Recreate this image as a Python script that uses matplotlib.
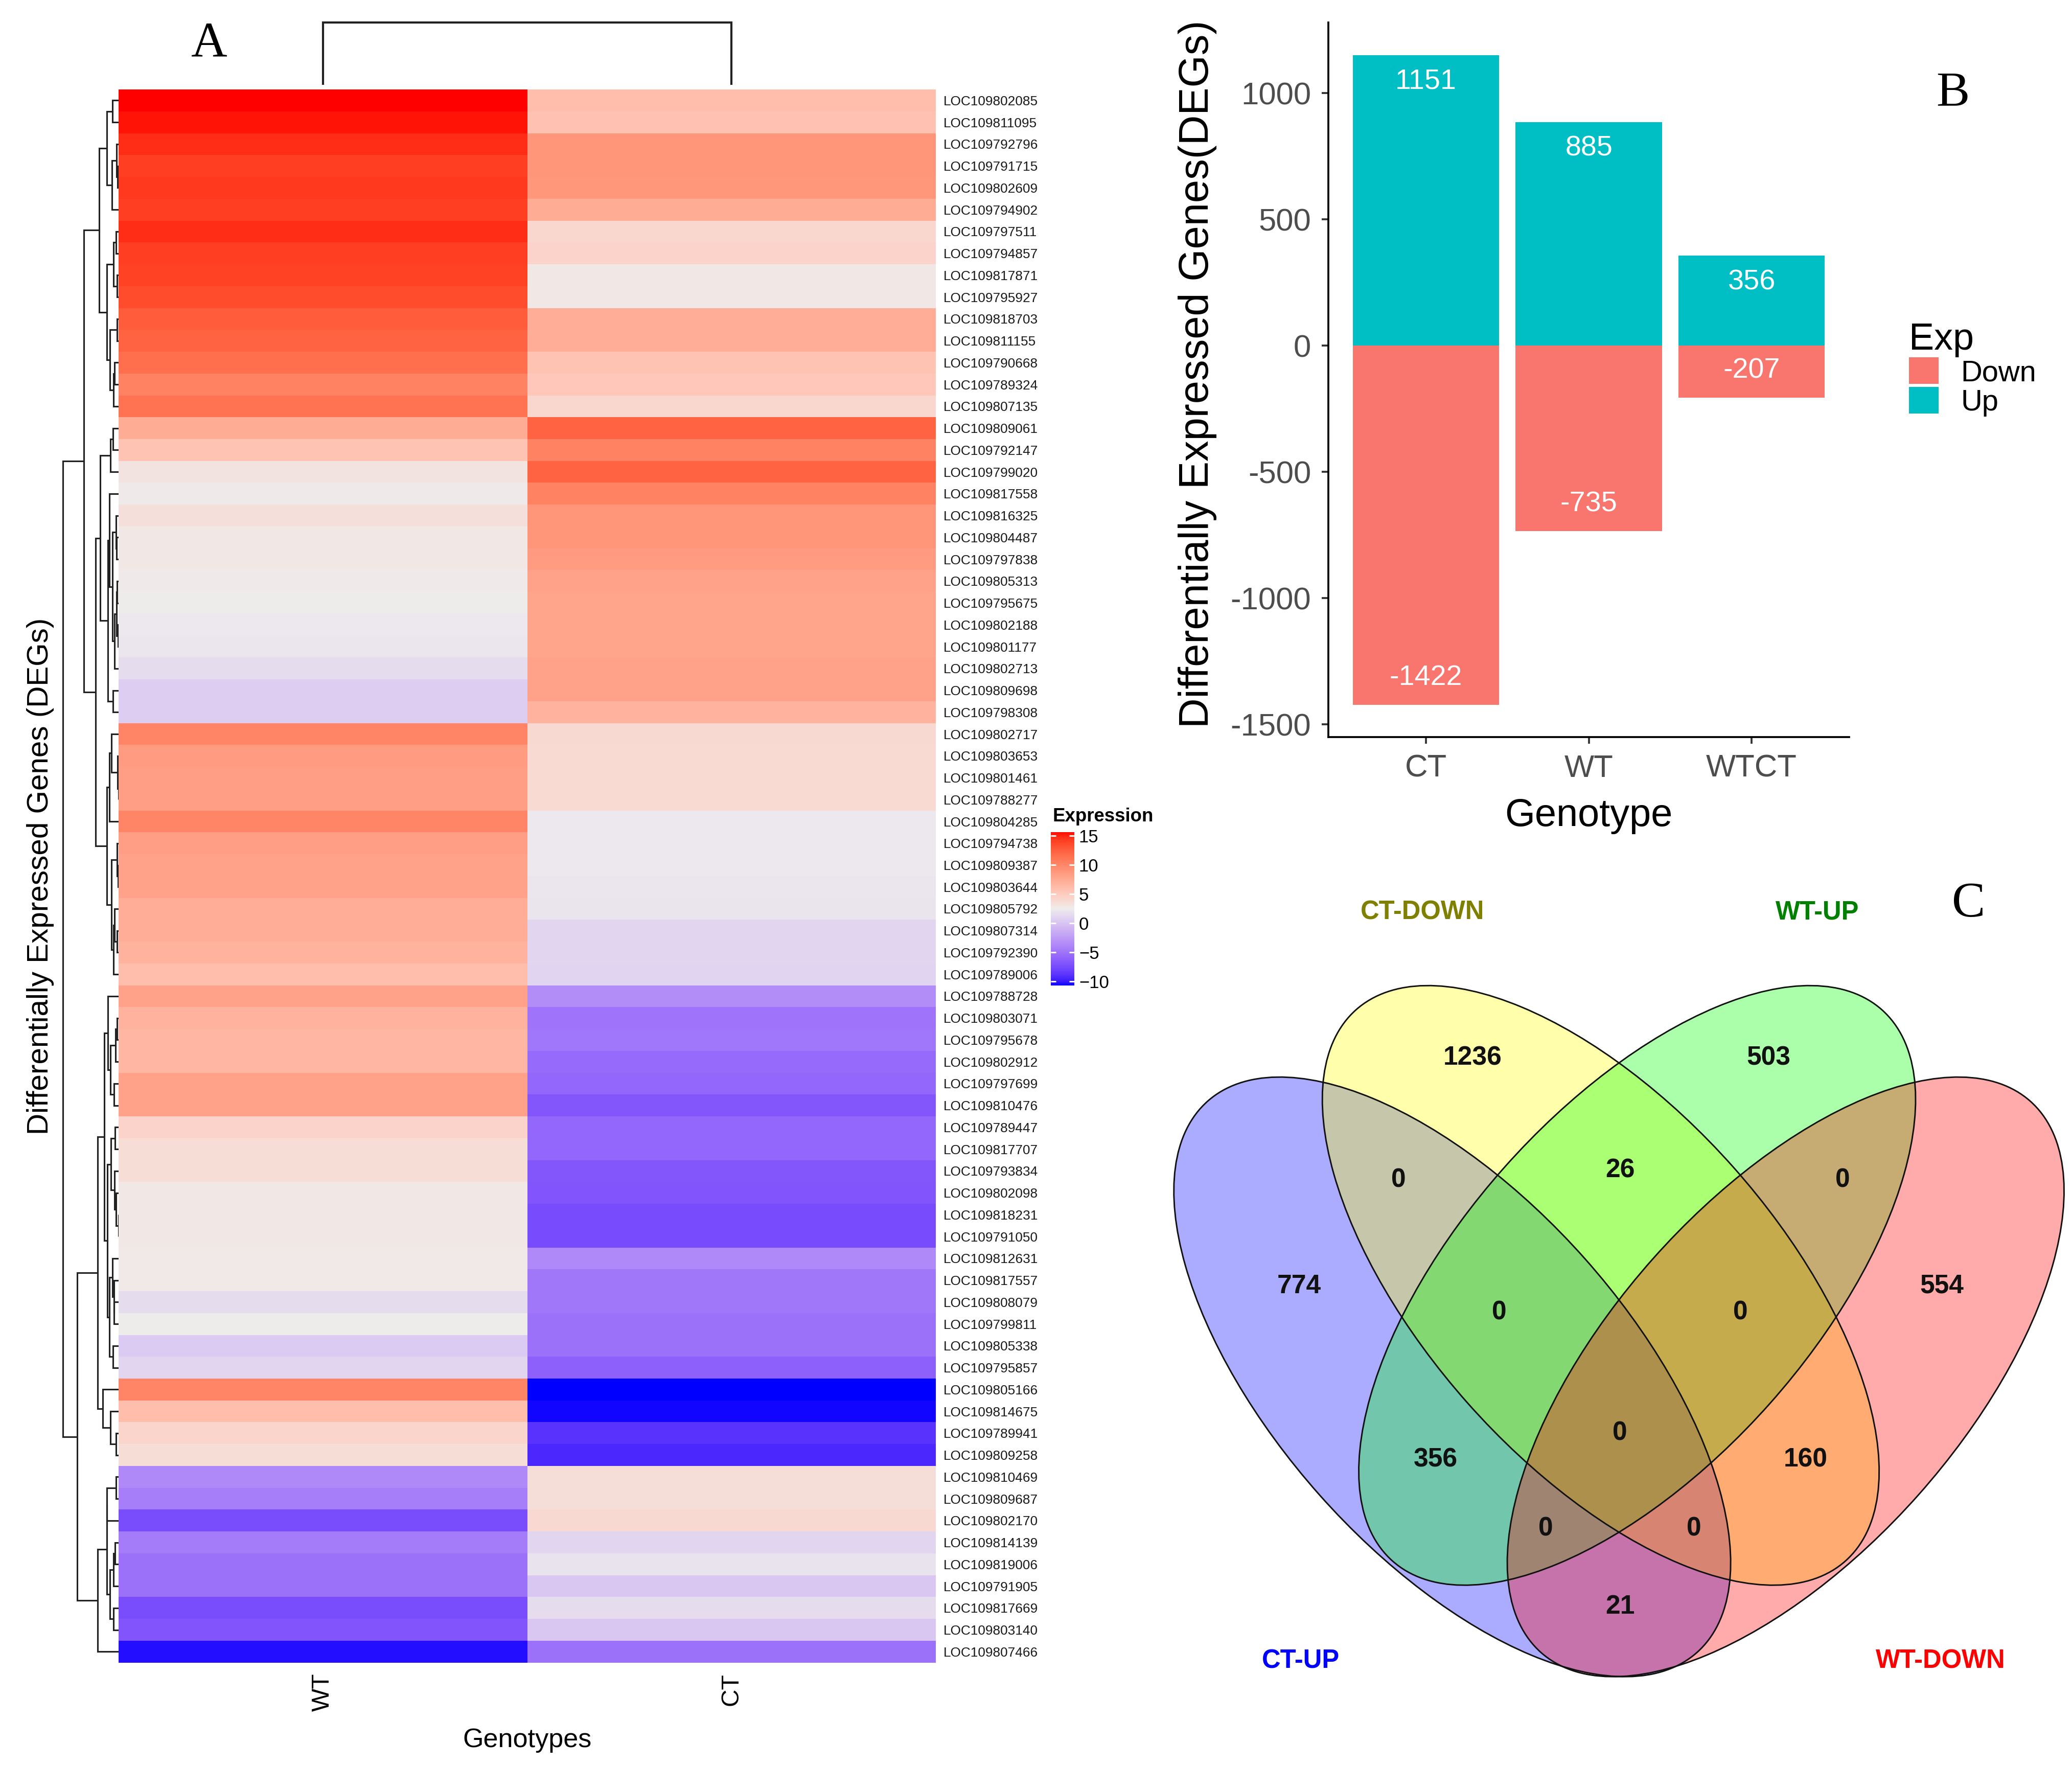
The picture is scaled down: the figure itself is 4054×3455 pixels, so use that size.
import numpy as np
import matplotlib
matplotlib.use("Agg")
import matplotlib.pyplot as plt
from matplotlib.colors import ListedColormap, Normalize
from matplotlib.patches import Ellipse, Patch

plt.rcParams['font.family'] = ['Liberation Sans', 'DejaVu Sans']
plt.rcParams['axes.unicode_minus'] = False

# ---------------- data: panel A heatmap ----------------
genes = [
    "LOC109802085", "LOC109811095", "LOC109792796", "LOC109791715", "LOC109802609",
    "LOC109794902", "LOC109797511", "LOC109794857", "LOC109817871", "LOC109795927",
    "LOC109818703", "LOC109811155", "LOC109790668", "LOC109789324", "LOC109807135",
    "LOC109809061", "LOC109792147", "LOC109799020", "LOC109817558", "LOC109816325",
    "LOC109804487", "LOC109797838", "LOC109805313", "LOC109795675", "LOC109802188",
    "LOC109801177", "LOC109802713", "LOC109809698", "LOC109798308", "LOC109802717",
    "LOC109803653", "LOC109801461", "LOC109788277", "LOC109804285", "LOC109794738",
    "LOC109809387", "LOC109803644", "LOC109805792", "LOC109807314", "LOC109792390",
    "LOC109789006", "LOC109788728", "LOC109803071", "LOC109795678", "LOC109802912",
    "LOC109797699", "LOC109810476", "LOC109789447", "LOC109817707", "LOC109793834",
    "LOC109802098", "LOC109818231", "LOC109791050", "LOC109812631", "LOC109817557",
    "LOC109808079", "LOC109799811", "LOC109805338", "LOC109795857", "LOC109805166",
    "LOC109814675", "LOC109789941", "LOC109809258", "LOC109810469", "LOC109809687",
    "LOC109802170", "LOC109814139", "LOC109819006", "LOC109791905", "LOC109817669",
    "LOC109803140", "LOC109807466",
]
wt_expr = [
    15.6, 15.3, 14.7, 14.1, 14.3, 14.1, 14.7, 14.1, 14.0, 13.5,
    12.7, 12.3, 11.5, 10.3, 11.3, 7.3, 5.6, 3.1, 2.6, 3.4,
    2.85, 2.85, 2.6, 2.5, 2.2, 2.05, 1.5, 0.5, 0.5, 10.1,
    8.6, 8.4, 8.4, 10.1, 8.4, 8.1, 8.1, 7.2, 7.2, 6.8,
    6.0, 8.0, 6.8, 6.5, 6.5, 8.0, 8.0, 4.4, 3.6, 3.6,
    2.8, 2.8, 2.8, 2.7, 2.7, 1.5, 2.5, 0.3, 1.1, 10.1,
    6.0, 4.2, 3.6, -3.7, -4.4, -7.4, -4.6, -5.2, -5.2, -7.4,
    -6.9, -10.3,
]
ct_expr = [
    6.0, 5.7, 9.0, 9.0, 8.9, 7.3, 4.0, 4.4, 2.85, 2.85,
    7.2, 7.2, 5.6, 5.3, 4.0, 12.3, 10.3, 12.3, 10.3, 9.0,
    9.0, 8.6, 8.1, 7.8, 7.8, 7.8, 8.1, 8.1, 6.8, 3.9,
    3.8, 3.8, 3.8, 2.2, 2.2, 2.2, 2.05, 2.0, 1.1, 1.1,
    1.0, -3.5, -5.0, -4.9, -5.6, -5.8, -6.8, -5.8, -5.8, -6.8,
    -6.9, -7.5, -7.5, -3.7, -4.8, -4.8, -5.2, -5.2, -6.2, -10.7,
    -10.5, -8.9, -9.4, 3.5, 3.5, 3.9, 1.1, 1.9, 0.1, 1.5,
    0.1, -5.2,
]
heat_columns = ["WT", "CT"]
cbar_ticks = [-10, -5, 0, 5, 10, 15]

# row dendrogram: ("n", height, left, right) / ("g", first_row, last_row, top_height)
row_tree = ("n", 42.0,
            ("n", 26.0,
             ("n", 14.5, ("n", 9.0, ("g", 1, 2, 4.5), ("g", 3, 6, 5.0)), ("g", 7, 15, 9.0)),
             ("n", 17.2, ("n", 13.7, ("g", 16, 18, 6.0), ("g", 19, 29, 8.0)), ("g", 30, 41, 8.7))),
            ("n", 31.2,
             ("n", 15.8, ("n", 10.6, ("g", 42, 47, 8.0), ("g", 48, 59, 8.5)),
              ("n", 12.0, ("g", 60, 60, 0.0), ("g", 61, 63, 6.0))),
             ("n", 15.8, ("g", 64, 71, 9.0), ("g", 72, 72, 0.0))))
col_merge_height = 1.0

# ---------------- data: panel B ----------------
bar_genotypes = ["CT", "WT", "WTCT"]
up_counts = [1151, 885, 356]
down_counts = [-1422, -735, -207]

# ---------------- data: panel C ----------------
venn_names = ["CT-UP", "CT-DOWN", "WT-UP", "WT-DOWN"]
venn_counts = [1236, 503, 0, 26, 0, 774, 554, 0, 0, 356, 0, 160, 0, 0, 21]

# ---------------- layout helpers (reference pixel grid 1563 x 1332) ----------------
W, H = 1563.0, 1332.0


def rect(x0, y0, x1, y1):
    return [x0 / W, 1 - y1 / H, (x1 - x0) / W, (y1 - y0) / H]


def srgb_to_lab(c):
    c = np.asarray(c, float)
    lin = np.where(c <= 0.04045, c / 12.92, ((c + 0.055) / 1.055) ** 2.4)
    M = np.array([[0.4124564, 0.3575761, 0.1804375],
                  [0.2126729, 0.7151522, 0.0721750],
                  [0.0193339, 0.1191920, 0.9503041]])
    xyz = M @ lin / np.array([0.95047, 1.0, 1.08883])
    f = np.where(xyz > 0.008856, np.cbrt(xyz), 7.787 * xyz + 16 / 116)
    return np.array([116 * f[1] - 16, 500 * (f[0] - f[1]), 200 * (f[1] - f[2])])


def lab_to_srgb(lab):
    L, a, b = lab
    fy = (L + 16) / 116
    fx = fy + a / 500
    fz = fy - b / 200
    f = np.array([fx, fy, fz])
    xyz = np.where(f ** 3 > 0.008856, f ** 3, (f - 16 / 116) / 7.787)
    xyz = xyz * np.array([0.95047, 1.0, 1.08883])
    Minv = np.array([[3.2404542, -1.5371385, -0.4985314],
                     [-0.9692660, 1.8760108, 0.0415560],
                     [0.0556434, -0.2040259, 1.0572252]])
    lin = Minv @ xyz
    lin = np.clip(lin, 0, 1)
    c = np.where(lin <= 0.0031308, 12.92 * lin, 1.055 * lin ** (1 / 2.4) - 0.055)
    return np.clip(c, 0, 1)


def lab_cmap(colors, n=256):
    labs = [srgb_to_lab(matplotlib.colors.to_rgb(c)) for c in colors]
    out = []
    for t in np.linspace(0, 1, n):
        seg = min(int(t * (len(labs) - 1)), len(labs) - 2)
        u = t * (len(labs) - 1) - seg
        out.append(lab_to_srgb(labs[seg] * (1 - u) + labs[seg + 1] * u))
    return ListedColormap(out)


cmap = lab_cmap(["#0000FF", "#EEECEC", "#FF0000"])

fig = plt.figure(figsize=(4054 / 300, 3455 / 300), dpi=300)

# ================= Panel A =================
M = np.column_stack([wt_expr, ct_expr])
nrow = len(genes)
norm = Normalize(vmin=M.min(), vmax=M.max())

axh = fig.add_axes(rect(89.4, 67.5, 706, 1254))
mesh = axh.pcolormesh(np.arange(3), np.arange(nrow + 1), M, cmap=cmap, norm=norm,
                      edgecolors='none', antialiased=False, shading='flat')
axh.set_xlim(0, 2)
axh.set_ylim(nrow, 0)
for s in axh.spines.values():
    s.set_visible(False)
axh.set_yticks(np.arange(nrow) + 0.5)
axh.set_yticklabels(genes, fontsize=6.3, color='#1a1a1a')
axh.yaxis.tick_right()
axh.tick_params(axis='y', length=0, pad=3.6, labelright=True, labelleft=False)
axh.set_xticks([0.5, 1.5])
axh.set_xticklabels(heat_columns, rotation=90, fontsize=11.5)
axh.tick_params(axis='x', length=0, pad=5)
axh.set_xlabel("Genotypes", fontsize=12.5)
axh.xaxis.set_label_coords(0.5, -0.0413)
axh.yaxis.set_label_position('left')
axh.set_ylabel("Differentially Expressed Genes (DEGs)", fontsize=14)
axh.yaxis.set_label_coords(-0.0785, 0.5)


def avg_dist(A, B):
    a = M[A]
    b = M[B]
    return np.sqrt(((a[:, None, :] - b[None, :, :]) ** 2).sum(-1)).mean()


def build_group(first, last, top):
    nodes = list(range(first - 1, last))
    members = [[i] for i in nodes]
    hts = [0.0] * len(nodes)
    while len(nodes) > 1:
        ds = [avg_dist(members[k], members[k + 1]) for k in range(len(nodes) - 1)]
        k = int(np.argmin(ds))
        h = max(ds[k], hts[k], hts[k + 1])
        nodes[k:k + 2] = [("n", h, nodes[k], nodes[k + 1])]
        members[k:k + 2] = [members[k] + members[k + 1]]
        hts[k:k + 2] = [h]
    root = nodes[0]
    if isinstance(root, int):
        return root
    scale = top / root[1]

    def rescale(n):
        if isinstance(n, int):
            return n
        return ("n", n[1] * scale, rescale(n[2]), rescale(n[3]))
    return rescale(root)


def expand(n):
    if n[0] == "g":
        return build_group(n[1], n[2], n[3])
    return ("n", n[1], expand(n[2]), expand(n[3]))


axd = fig.add_axes(rect(44, 67.5, 89.4, 1254))
axd.set_xlim(45.4, 0)
axd.set_ylim(nrow, 0)
axd.axis('off')


def draw_row(n):
    if isinstance(n, int):
        return n + 0.5, 0.0
    _, h, l, r = n
    yl, hl = draw_row(l)
    yr, hr = draw_row(r)
    axd.plot([hl, h, h, hr], [yl, yl, yr, yr], color='#222222', lw=0.75,
             solid_joinstyle='miter', solid_capstyle='butt')
    return (yl + yr) / 2, h


draw_row(expand(row_tree))

axc = fig.add_axes(rect(89.4, 10, 706, 64))
axc.set_xlim(0, 2)
axc.set_ylim(0, col_merge_height * 54 / 47)
axc.axis('off')
axc.plot([0.5, 0.5, 1.5, 1.5], [0, col_merge_height, col_merge_height, 0],
         color='#222222', lw=1.0, solid_joinstyle='miter')

cax = fig.add_axes(rect(792.6, 627.6, 810.3, 743.3))
cb = fig.colorbar(mesh, cax=cax)
cb.outline.set_visible(False)
cb.set_ticks(cbar_ticks)
cb.set_ticklabels([str(t).replace('-', '\u2212') for t in cbar_ticks])
cax.tick_params(axis='y', direction='in', length=2.3, width=0.7, color='white',
                left=True, right=True, labelleft=False, labelright=True,
                labelsize=8.3, pad=2.2)
fig.text(794 / W, 1 - 619.5 / H, "Expression", fontsize=8.8, fontweight='bold',
         ha='left', va='baseline')

# ================= Panel B =================
axb = fig.add_axes(rect(1002, 17, 1395, 556))
xb = np.arange(1, len(bar_genotypes) + 1)
axb.bar(xb, up_counts, width=0.9, color='#00BFC4', label='Up')
axb.bar(xb, down_counts, width=0.9, color='#F8766D', label='Down')
lo, hi = min(down_counts), max(up_counts)
padv = 0.05 * (hi - lo)
axb.set_ylim(lo - padv, hi + padv)
axb.set_xlim(0.4, len(bar_genotypes) + 0.6)
axb.set_xticks(xb)
axb.set_xticklabels(bar_genotypes)
yt = [-1500, -1000, -500, 0, 500, 1000]
axb.set_yticks(yt)
axb.set_yticklabels([str(v) for v in yt])
for s in ['top', 'right']:
    axb.spines[s].set_visible(False)
for s in ['left', 'bottom']:
    axb.spines[s].set_linewidth(0.9)
    axb.spines[s].set_color('black')
axb.tick_params(length=3.1, width=0.9, color='#333333', labelcolor='#4D4D4D',
                labelsize=14.8, pad=5.0)
for xi, v in zip(xb, up_counts):
    axb.annotate(str(v), (xi, v), xytext=(0, -12.4), textcoords='offset points',
                 ha='center', va='center', color='white', fontsize=13.4)
for xi, v in zip(xb, down_counts):
    axb.annotate(str(v), (xi, v), xytext=(0, 12.6), textcoords='offset points',
                 ha='center', va='center', color='white', fontsize=13.4)
axb.set_ylabel("Differentially Expressed Genes(DEGs)", fontsize=19.5)
axb.yaxis.set_label_coords(-0.214, 0.508)
axb.set_xlabel("Genotype", fontsize=18.2)
axb.xaxis.set_label_coords(0.5, -0.085)
handles = [Patch(facecolor='#F8766D', edgecolor='none', label='Down'),
           Patch(facecolor='#00BFC4', edgecolor='none', label='Up')]
axb.legend(handles=handles, title='Exp', loc='upper left',
           bbox_to_anchor=(1440 / W, 1 - 243 / H), bbox_transform=fig.transFigure,
           frameon=False, fontsize=13.9, title_fontsize=17.7, handlelength=1.0,
           handleheight=1.0, handletextpad=0.75, labelspacing=0.0, borderpad=0,
           borderaxespad=0, alignment='left')

# ================= Panel C (Venn) =================
axv = fig.add_axes(rect(860, 640, 1563, 1332))
axv.set_xlim(860, 1563)
axv.set_ylim(1332, 640)
axv.axis('off')
ell_a, ell_b, ell_ang = 278.0, 134.0, 48.4
ell_specs = [((1095.5, 1038.5), ell_ang, '#0000FF'),
             ((1207.5, 969.5), ell_ang, '#FFFF00'),
             ((1235.0, 969.5), -ell_ang, '#00FF00'),
             ((1347.0, 1038.5), -ell_ang, '#FF0000')]
for c, ang, col in ell_specs:
    axv.add_patch(Ellipse(c, 2 * ell_a, 2 * ell_b, angle=ang, facecolor=col,
                          edgecolor='none', alpha=0.33))
for c, ang, col in ell_specs:
    axv.add_patch(Ellipse(c, 2 * ell_a, 2 * ell_b, angle=ang, facecolor='none',
                          edgecolor='#111111', lw=0.7))
count_pos = [(1111, 798), (1334, 798), (1055, 890), (1222, 883), (1390, 890),
             (980, 970), (1465, 970), (1131, 990), (1313, 990), (1083, 1101),
             (1222, 1081), (1362, 1101), (1166, 1153), (1278, 1153), (1222, 1212)]
for (px, py), v in zip(count_pos, venn_counts):
    axv.text(px, py, str(v), ha='center', va='center', fontsize=12.4,
             fontweight='bold', color='#111111')
name_pos = [(981, 1253), (1073, 688), (1371, 688), (1464, 1253)]
name_cols = ['#0000FF', '#808000', '#008000', '#FF0000']
for (px, py), name, col in zip(name_pos, venn_names, name_cols):
    axv.text(px, py, name, ha='center', va='center', fontsize=12.2,
             fontweight='bold', color=col)

# panel letters
for letter, (px, py) in zip("ABC", [(158, 33), (1473, 71), (1485, 682)]):
    fig.text(px / W, 1 - py / H, letter, fontsize=23.5, ha='center', va='center',
             family=['Liberation Serif', 'DejaVu Serif'])

fig.savefig("out.png", dpi=300)
